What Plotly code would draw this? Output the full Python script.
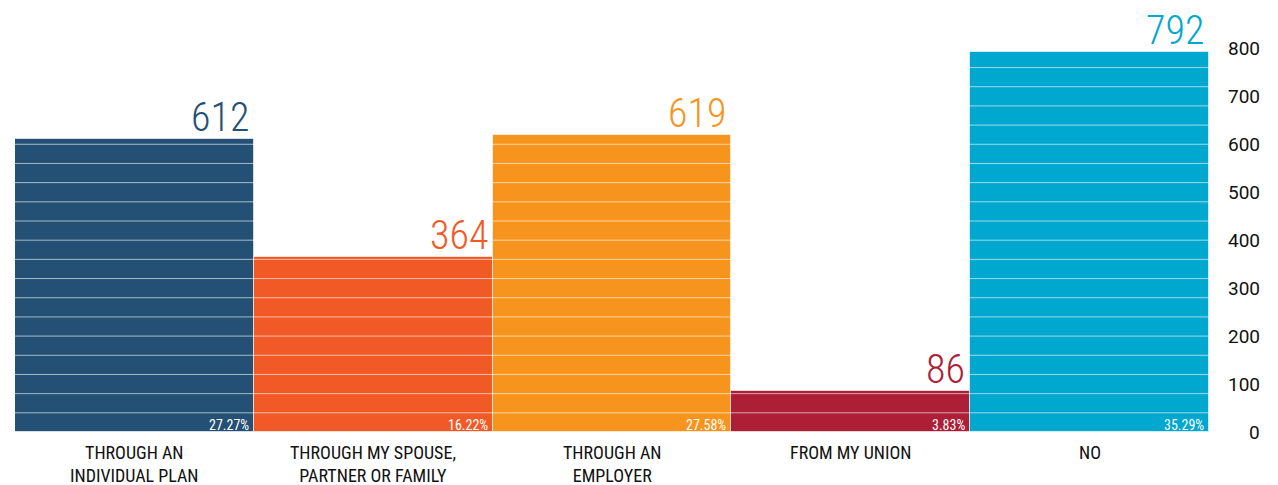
import plotly.graph_objects as go

categories = ["THROUGH AN<br>INDIVIDUAL PLAN", "THROUGH MY SPOUSE,<br>PARTNER OR FAMILY",
              "THROUGH AN<br>EMPLOYER", "FROM MY UNION", "NO"]
counts = [612, 364, 619, 86, 792]
percent_labels = ["27.27%", "16.22%", "27.58%", "3.83%", "35.29%"]
bar_colors = ["#245075", "#F15A27", "#F7941E", "#AD1F37", "#00A7CF"]
y_ticks = [0, 100, 200, 300, 400, 500, 600, 700, 800]

FONT = "Roboto Condensed, DejaVu Sans Condensed, Roboto, sans-serif"
NUM_FONT = "Roboto, sans-serif"
xs = list(range(len(counts)))

fig = go.Figure()
fig.add_trace(go.Bar(
    x=xs, y=counts,
    marker=dict(color=bar_colors, line=dict(color="rgba(255,255,255,0.6)", width=1)),
    hoverinfo="skip",
))

# white rules across the bars every 40 units
for v in range(40, 881, 40):
    fig.add_shape(type="line", xref="paper", x0=0, x1=1, yref="y", y0=v, y1=v,
                  line=dict(color="rgba(255,255,255,0.6)", width=1), layer="above")

annotations = []
for i, (c, p, col) in enumerate(zip(counts, percent_labels, bar_colors)):
    annotations.append(dict(x=i + 0.5, y=c, xref="x", yref="y", text=str(c), showarrow=False,
                            xanchor="right", yanchor="bottom", xshift=-3, yshift=-4,
                            font=dict(family=FONT, size=40, color=col, weight=300)))
    annotations.append(dict(x=i + 0.5, y=0, xref="x", yref="y", text=p, showarrow=False,
                            xanchor="right", yanchor="bottom", xshift=-3, yshift=-3,
                            font=dict(family=FONT, size=14, color="white")))
    annotations.append(dict(x=i, y=0, xref="x", yref="paper", text=categories[i], showarrow=False,
                            xanchor="center", yanchor="top", yshift=-8,
                            font=dict(family=FONT, size=18, color="#111")))
for t in y_ticks:
    annotations.append(dict(x=1, y=t, xref="paper", yref="y", text=str(t), showarrow=False,
                            xanchor="right", yanchor="middle", xshift=53,
                            font=dict(family=NUM_FONT, size=19, color="#111")))

fig.update_layout(
    width=1278, height=485,
    margin=dict(l=7, r=77, t=2, b=61),
    paper_bgcolor="white", plot_bgcolor="white",
    bargap=0, showlegend=False,
    annotations=annotations,
    font=dict(family=FONT, color="#111"),
)
fig.update_xaxes(range=[-0.5, 4.5], showticklabels=False, showgrid=False,
                 zeroline=False, showline=False, ticks="", automargin=False)
fig.update_yaxes(range=[0, 880], showgrid=False, zeroline=False, showticklabels=False,
                 automargin=False)

fig.write_html("out.html")
